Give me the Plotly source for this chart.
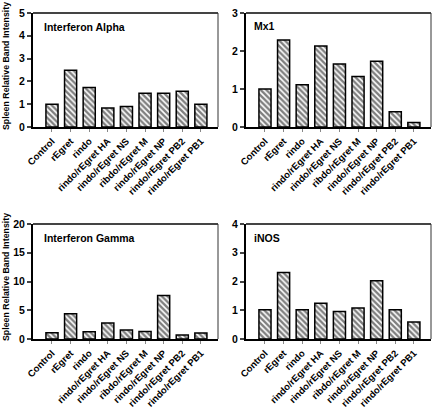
import plotly.graph_objects as go

categories = ["Control", "rEgret", "rindo", "rindo/rEgret HA", "rindo/rEgret NS",
              "ribdo/rEgret M", "rindo/rEgret NP", "rindo/rEgret PB2", "rindo/rEgret PB1"]
ifn_alpha = [1.0, 2.49, 1.73, 0.83, 0.9, 1.48, 1.48, 1.57, 1.0]
mx1 = [1.0, 2.29, 1.11, 2.13, 1.66, 1.33, 1.73, 0.4, 0.12]
ifn_gamma = [1.1, 4.4, 1.28, 2.8, 1.55, 1.3, 7.55, 0.7, 1.05]
inos = [1.02, 2.31, 1.02, 1.24, 0.96, 1.08, 2.03, 1.02, 0.59]

panels = [
    ("Interferon Alpha", ifn_alpha, [0, 5], 1),
    ("Mx1", mx1, [0, 3], 1),
    ("Interferon Gamma", ifn_gamma, [0, 20], 5),
    ("iNOS", inos, [0, 4], 1),
]

W, H = 433, 408
def px_x(v): return v / W
def px_y(v): return (H - v) / H

xdoms = [[px_x(33), px_x(218)], [px_x(246), px_x(431)]]
ydoms = [[px_y(127), px_y(13)], [px_y(339), px_y(224)]]
title_pos = [(42, 27), (252, 26), (42, 238), (252, 238)]

FONT = "Liberation Sans, Arial, sans-serif"
fig = go.Figure()
layout = dict(width=W, height=H, margin=dict(l=0, r=0, t=0, b=0, autoexpand=False),
              plot_bgcolor="white", paper_bgcolor="white", showlegend=False,
              font=dict(family=FONT, color="black"))
shapes = []
annotations = []
for i, (name, vals, yr, dt) in enumerate(panels):
    r, c = divmod(i, 2)
    sfx = "" if i == 0 else str(i + 1)
    fig.add_trace(go.Bar(
        x=categories, y=vals, width=0.65,
        xaxis="x" + sfx, yaxis="y" + sfx,
        marker=dict(color="white", line=dict(color="black", width=1.5),
                    pattern=dict(shape="\\", fgcolor="black", bgcolor="white",
                                 size=4, solidity=0.6)),
    ))
    layout["xaxis" + sfx] = dict(domain=xdoms[c], anchor="y" + sfx, automargin=False,
                                 range=[-1.02, 8.92], showline=True, linecolor="black",
                                 linewidth=2, ticks="outside", ticklen=3, tickwidth=1,
                                 tickcolor="#888", tickangle=-45,
                                 tickfont=dict(size=9.5, weight="bold", family=FONT),
                                 showgrid=False, zeroline=False)
    layout["yaxis" + sfx] = dict(domain=ydoms[r], anchor="x" + sfx, range=yr, automargin=False,
                                 dtick=dt, showline=True, linecolor="black", linewidth=2,
                                 ticks="outside", ticklen=4, tickwidth=1.5,
                                 tickfont=dict(size=10.5, weight="bold", family=FONT),
                                 showgrid=False, zeroline=False)
    xr = "x" + sfx + " domain"
    yr_ = "y" + sfx + " domain"
    shapes.append(dict(type="line", xref=xr, yref=yr_, x0=0, x1=1, y0=1, y1=1,
                       line=dict(color="#444", width=2)))
    shapes.append(dict(type="line", xref=xr, yref=yr_, x0=1, x1=1, y0=0, y1=1,
                       line=dict(color="#333", width=1)))
    tx, ty = title_pos[i]
    annotations.append(dict(text=name, xref="paper", yref="paper", x=px_x(tx), y=px_y(ty),
                            xanchor="left", yanchor="middle", showarrow=False,
                            font=dict(size=10.5, weight="bold", family=FONT)))

for cy in (66, 277):
    annotations.append(dict(text="Spleen Relative Band Intensity", xref="paper", yref="paper",
                            x=px_x(6), y=px_y(cy), textangle=-90, showarrow=False,
                            xanchor="center", yanchor="middle",
                            font=dict(size=8.8, weight="bold", family=FONT)))

layout["shapes"] = shapes
layout["annotations"] = annotations
fig.update_layout(**layout)
fig.write_html("out.html", config={"displayModeBar": False},
               post_script="document.body.style.margin='0';")
